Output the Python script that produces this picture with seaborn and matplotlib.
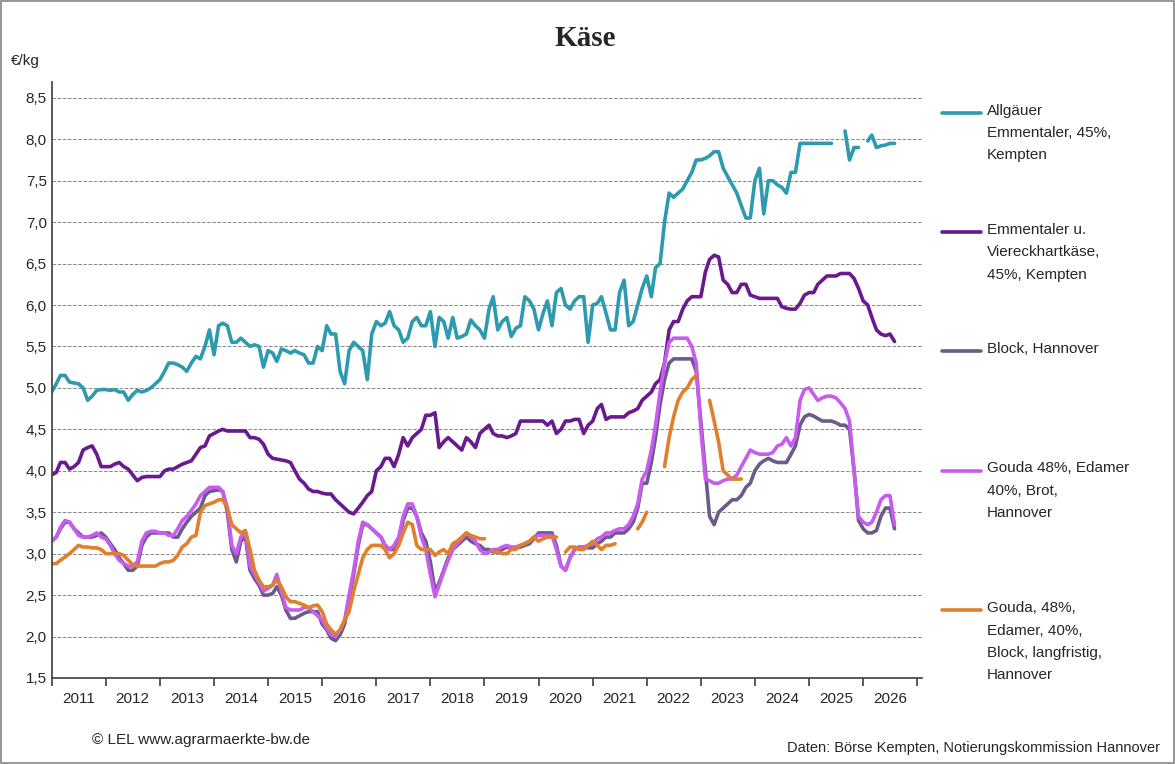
import seaborn as sns
import matplotlib.pyplot as plt
import numpy as np
import pandas as pd
from matplotlib.lines import Line2D
sns.set(font_scale=1.0, style="white")
plt.rcParams['font.family'] = ['Liberation Sans', 'DejaVu Sans']

nan = np.nan
months = pd.date_range('2011-01-01', periods=188, freq='MS')

allgaeuer = [4.95,5.05,5.15,5.15,5.07,5.06,5.05,5.0,4.85,4.9,4.97,4.98,
             4.98,4.97,4.98,4.95,4.95,4.85,4.92,4.97,4.95,4.97,5.0,5.05,
             5.1,5.2,5.3,5.3,5.28,5.25,5.2,5.3,5.38,5.35,5.5,5.7,
             5.4,5.75,5.78,5.75,5.55,5.55,5.6,5.55,5.5,5.52,5.5,5.25,
             5.45,5.42,5.32,5.47,5.45,5.42,5.45,5.42,5.4,5.3,5.3,5.5,
             5.45,5.75,5.65,5.65,5.2,5.05,5.45,5.55,5.5,5.45,5.1,5.65,
             5.8,5.75,5.78,5.92,5.75,5.7,5.55,5.6,5.8,5.85,5.75,5.75,
             5.92,5.5,5.85,5.8,5.6,5.85,5.6,5.62,5.65,5.82,5.75,5.7,
             5.6,5.95,6.1,5.7,5.8,5.85,5.62,5.72,5.75,6.1,6.05,5.95,
             5.7,5.9,6.05,5.75,6.15,6.2,6.0,5.95,6.05,6.1,6.1,5.55,
             6.0,6.02,6.1,5.9,5.7,5.7,6.15,6.3,5.75,5.8,6.0,6.2,
             6.35,6.1,6.45,6.5,7.0,7.35,7.3,7.35,7.4,7.5,7.6,7.75,
             7.75,7.77,7.8,7.85,7.85,7.65,7.55,7.45,7.35,7.2,7.05,7.05,
             7.5,7.65,7.1,7.5,7.5,7.45,7.42,7.35,7.6,7.6,7.95,7.95,
             7.95,7.95,7.95,7.95,7.95,7.95,nan,nan,8.1,7.75,7.9,7.9,
             nan,7.98,8.05,7.9,7.92,7.93,7.95,7.95]
emmentaler = [3.95,3.98,4.1,4.1,4.02,4.05,4.1,4.25,4.28,4.3,4.2,4.05,
              4.05,4.05,4.08,4.1,4.05,4.02,3.95,3.88,3.92,3.93,3.93,3.93,
              3.93,4.0,4.02,4.02,4.05,4.08,4.1,4.12,4.2,4.28,4.3,4.42,
              4.45,4.48,4.5,4.48,4.48,4.48,4.48,4.48,4.4,4.4,4.38,4.32,
              4.2,4.15,4.14,4.13,4.12,4.1,4.0,3.9,3.85,3.78,3.75,3.75,
              3.73,3.72,3.72,3.65,3.6,3.55,3.5,3.48,3.55,3.62,3.7,3.75,
              4.0,4.05,4.15,4.15,4.05,4.2,4.4,4.3,4.4,4.45,4.5,4.67,
              4.67,4.7,4.28,4.35,4.4,4.35,4.3,4.25,4.4,4.35,4.28,4.45,
              4.5,4.55,4.45,4.42,4.42,4.4,4.42,4.45,4.6,4.6,4.6,4.6,
              4.6,4.6,4.55,4.6,4.45,4.5,4.6,4.6,4.62,4.62,4.45,4.55,
              4.6,4.75,4.8,4.62,4.65,4.65,4.65,4.65,4.7,4.72,4.75,4.85,
              4.9,4.95,5.05,5.1,5.3,5.7,5.8,5.8,5.95,6.05,6.1,6.1,
              6.1,6.4,6.55,6.6,6.58,6.3,6.25,6.15,6.15,6.25,6.25,6.12,
              6.1,6.08,6.08,6.08,6.08,6.08,5.98,5.96,5.95,5.95,6.02,6.12,
              6.15,6.15,6.25,6.3,6.35,6.35,6.35,6.38,6.38,6.38,6.32,6.2,
              6.05,6.0,5.85,5.7,5.65,5.63,5.65,5.56]
block = [3.15,3.2,3.3,3.38,3.38,3.3,3.25,3.2,3.2,3.2,3.22,3.25,
         3.2,3.12,3.05,2.95,2.88,2.8,2.8,2.85,3.1,3.2,3.25,3.25,
         3.25,3.25,3.25,3.2,3.2,3.3,3.38,3.45,3.5,3.55,3.7,3.75,
         3.76,3.77,3.75,3.5,3.05,2.9,3.15,3.2,2.8,2.7,2.62,2.5,
         2.5,2.52,2.6,2.5,2.32,2.22,2.22,2.25,2.28,2.3,2.3,2.3,
         2.15,2.08,1.98,1.95,2.02,2.15,2.45,2.75,3.1,3.35,3.35,3.3,
         3.25,3.2,3.1,3.05,3.05,3.12,3.4,3.55,3.55,3.45,3.25,3.15,
         2.9,2.55,2.65,2.8,2.95,3.05,3.1,3.15,3.2,3.15,3.12,3.1,
         3.05,3.05,3.02,3.02,3.05,3.08,3.07,3.07,3.08,3.1,3.12,3.18,
         3.25,3.25,3.25,3.25,3.1,2.85,2.8,2.95,3.05,3.08,3.08,3.07,
         3.07,3.12,3.15,3.2,3.2,3.25,3.25,3.25,3.3,3.38,3.55,3.85,
         3.85,4.1,4.4,4.8,5.1,5.3,5.35,5.35,5.35,5.35,5.35,5.2,
         4.6,4.0,3.45,3.35,3.5,3.55,3.6,3.65,3.65,3.7,3.8,3.85,
         4.0,4.08,4.12,4.15,4.12,4.1,4.1,4.1,4.2,4.3,4.55,4.65,
         4.68,4.66,4.63,4.6,4.6,4.6,4.58,4.55,4.55,4.5,4.0,3.4,
         3.3,3.25,3.25,3.28,3.45,3.55,3.55,3.3]
gouda_brot = [3.15,3.2,3.32,3.4,3.38,3.3,3.22,3.2,3.2,3.22,3.25,3.2,
              3.18,3.1,3.0,2.92,2.88,2.85,2.85,2.9,3.15,3.25,3.27,3.27,
              3.25,3.25,3.22,3.22,3.3,3.4,3.45,3.52,3.6,3.7,3.75,3.8,
              3.8,3.8,3.75,3.55,3.1,3.0,3.2,3.25,2.85,2.75,2.65,2.55,
              2.58,2.62,2.75,2.55,2.35,2.32,2.32,2.32,2.35,2.35,2.3,2.25,
              2.2,2.1,2.02,2.0,2.08,2.2,2.5,2.8,3.15,3.38,3.35,3.3,
              3.25,3.2,3.1,3.05,3.1,3.2,3.45,3.6,3.6,3.45,3.2,3.05,
              2.75,2.48,2.62,2.78,2.92,3.05,3.12,3.18,3.25,3.2,3.15,3.05,
              3.0,3.02,3.05,3.05,3.08,3.1,3.08,3.08,3.1,3.12,3.15,3.2,
              3.22,3.22,3.22,3.22,3.05,2.85,2.8,2.95,3.05,3.08,3.08,3.1,
              3.12,3.18,3.2,3.25,3.25,3.28,3.3,3.3,3.35,3.45,3.6,3.9,
              4.0,4.25,4.55,4.95,5.3,5.55,5.6,5.6,5.6,5.6,5.5,5.3,
              4.5,3.9,3.88,3.85,3.85,3.88,3.9,3.9,3.95,4.05,4.15,4.25,
              4.22,4.2,4.2,4.2,4.22,4.3,4.32,4.4,4.3,4.4,4.85,4.98,
              5.0,4.92,4.85,4.88,4.9,4.9,4.88,4.82,4.75,4.6,4.0,3.45,
              3.38,3.35,3.38,3.5,3.65,3.7,3.7,3.35]
gouda_lang = [2.88,2.88,2.92,2.96,3.0,3.05,3.1,3.08,3.08,3.07,3.07,3.05,
              3.0,3.0,3.0,3.0,2.98,2.92,2.87,2.85,2.85,2.85,2.85,2.85,
              2.88,2.9,2.9,2.92,2.98,3.08,3.12,3.2,3.22,3.5,3.58,3.6,
              3.62,3.65,3.65,3.55,3.35,3.3,3.25,3.28,3.05,2.8,2.68,2.6,
              2.6,2.62,2.68,2.6,2.48,2.42,2.42,2.4,2.38,2.35,2.37,2.38,
              2.3,2.15,2.08,2.03,2.08,2.2,2.3,2.55,2.75,2.95,3.05,3.1,
              3.1,3.1,3.05,2.95,3.0,3.1,3.25,3.38,3.35,3.1,3.05,3.05,
              3.05,2.98,3.02,3.05,3.0,3.12,3.15,3.2,3.25,3.22,3.2,3.18,
              3.18,nan,3.02,3.02,3.0,3.0,3.05,3.05,3.1,3.12,3.15,3.2,
              3.15,3.18,3.2,3.2,3.2,nan,3.02,3.08,3.08,3.05,3.05,3.1,
              3.15,3.1,3.05,3.1,3.1,3.12,nan,nan,nan,nan,3.3,3.38,
              3.5,nan,nan,nan,4.05,4.4,4.65,4.85,4.95,5.0,5.1,5.15,
              nan,nan,4.85,4.6,4.35,4.0,3.95,3.9,3.9,3.9,nan,nan] + [nan] * 32

series = [
    (allgaeuer, '#2E9AB0', 'Allgäuer\nEmmentaler, 45%,\nKempten'),
    (emmentaler, '#6A1A8E', 'Emmentaler u.\nViereckhartkäse,\n45%, Kempten'),
    (block, '#6B5A8A', 'Block, Hannover'),
    (gouda_brot, '#C85CEE', 'Gouda 48%, Edamer\n40%, Brot,\nHannover'),
    (gouda_lang, '#E07F2C', 'Gouda, 48%,\nEdamer, 40%,\nBlock, langfristig,\nHannover'),
]

fig = plt.figure(figsize=(11.75, 7.64), dpi=100)
fig.patch.set_edgecolor('#999999')
fig.patch.set_linewidth(1.5)
ax = fig.add_axes([0.044, 0.1126, 0.741, 0.78])

for values, color, label in series:
    df = pd.DataFrame({'Monat': months, 'Preis': values})
    seg = df['Preis'].isna().cumsum()
    for _, part in df[df['Preis'].notna()].groupby(seg[df['Preis'].notna()]):
        sns.lineplot(data=part, x='Monat', y='Preis', color=color, linewidth=2.6, ax=ax)

ax.set_ylim(1.5, 8.69)
ax.set_xlim(pd.Timestamp('2011-01-01'), pd.Timestamp('2027-02-05'))
ax.set_yticks(np.arange(1.5, 8.51, 0.5))
ax.set_yticklabels([f'{v:.1f}'.replace('.', ',') for v in np.arange(1.5, 8.51, 0.5)], fontsize=11)
ax.yaxis.grid(True, linestyle='--', color='#888888', linewidth=0.7)
years = list(range(2011, 2027))
ax.set_xticks([pd.Timestamp(f'{y}-01-01') for y in years + [2027]])
ax.set_xticklabels([])
ax.set_xticks([pd.Timestamp(f'{y}-07-01') for y in years], minor=True)
ax.set_xticklabels([str(y) for y in years], minor=True, fontsize=11)
ax.tick_params(axis='x', which='major', length=6, color='#444444', direction='out', bottom=True)
ax.tick_params(axis='x', which='minor', length=0, pad=10)
ax.tick_params(axis='y', length=0)
for s in ['top', 'right']:
    ax.spines[s].set_visible(False)
for s in ['left', 'bottom']:
    ax.spines[s].set_color('#444444')
ax.set_xlabel('')
ax.set_ylabel('')

fig.text(0.009, 0.915, '€/kg', fontsize=11)
fig.text(0.498, 0.94, 'Käse', fontsize=21, fontweight='bold', family='Liberation Serif', ha='center')

# legend drawn by hand
legend_y = [0.852, 0.696, 0.541, 0.384, 0.201]
for (values, color, label), ly in zip(series, legend_y):
    fig.add_artist(Line2D([0.802, 0.835], [ly, ly], color=color, linewidth=2.6))
    fig.text(0.84, ly + 0.012, label, fontsize=11, va='top', linespacing=1.75)

fig.text(0.078, 0.026, '© LEL www.agrarmaerkte-bw.de', fontsize=11)
fig.text(0.987, 0.016, 'Daten: Börse Kempten, Notierungskommission Hannover', fontsize=10.5, ha='right')

plt.savefig('out.png')
